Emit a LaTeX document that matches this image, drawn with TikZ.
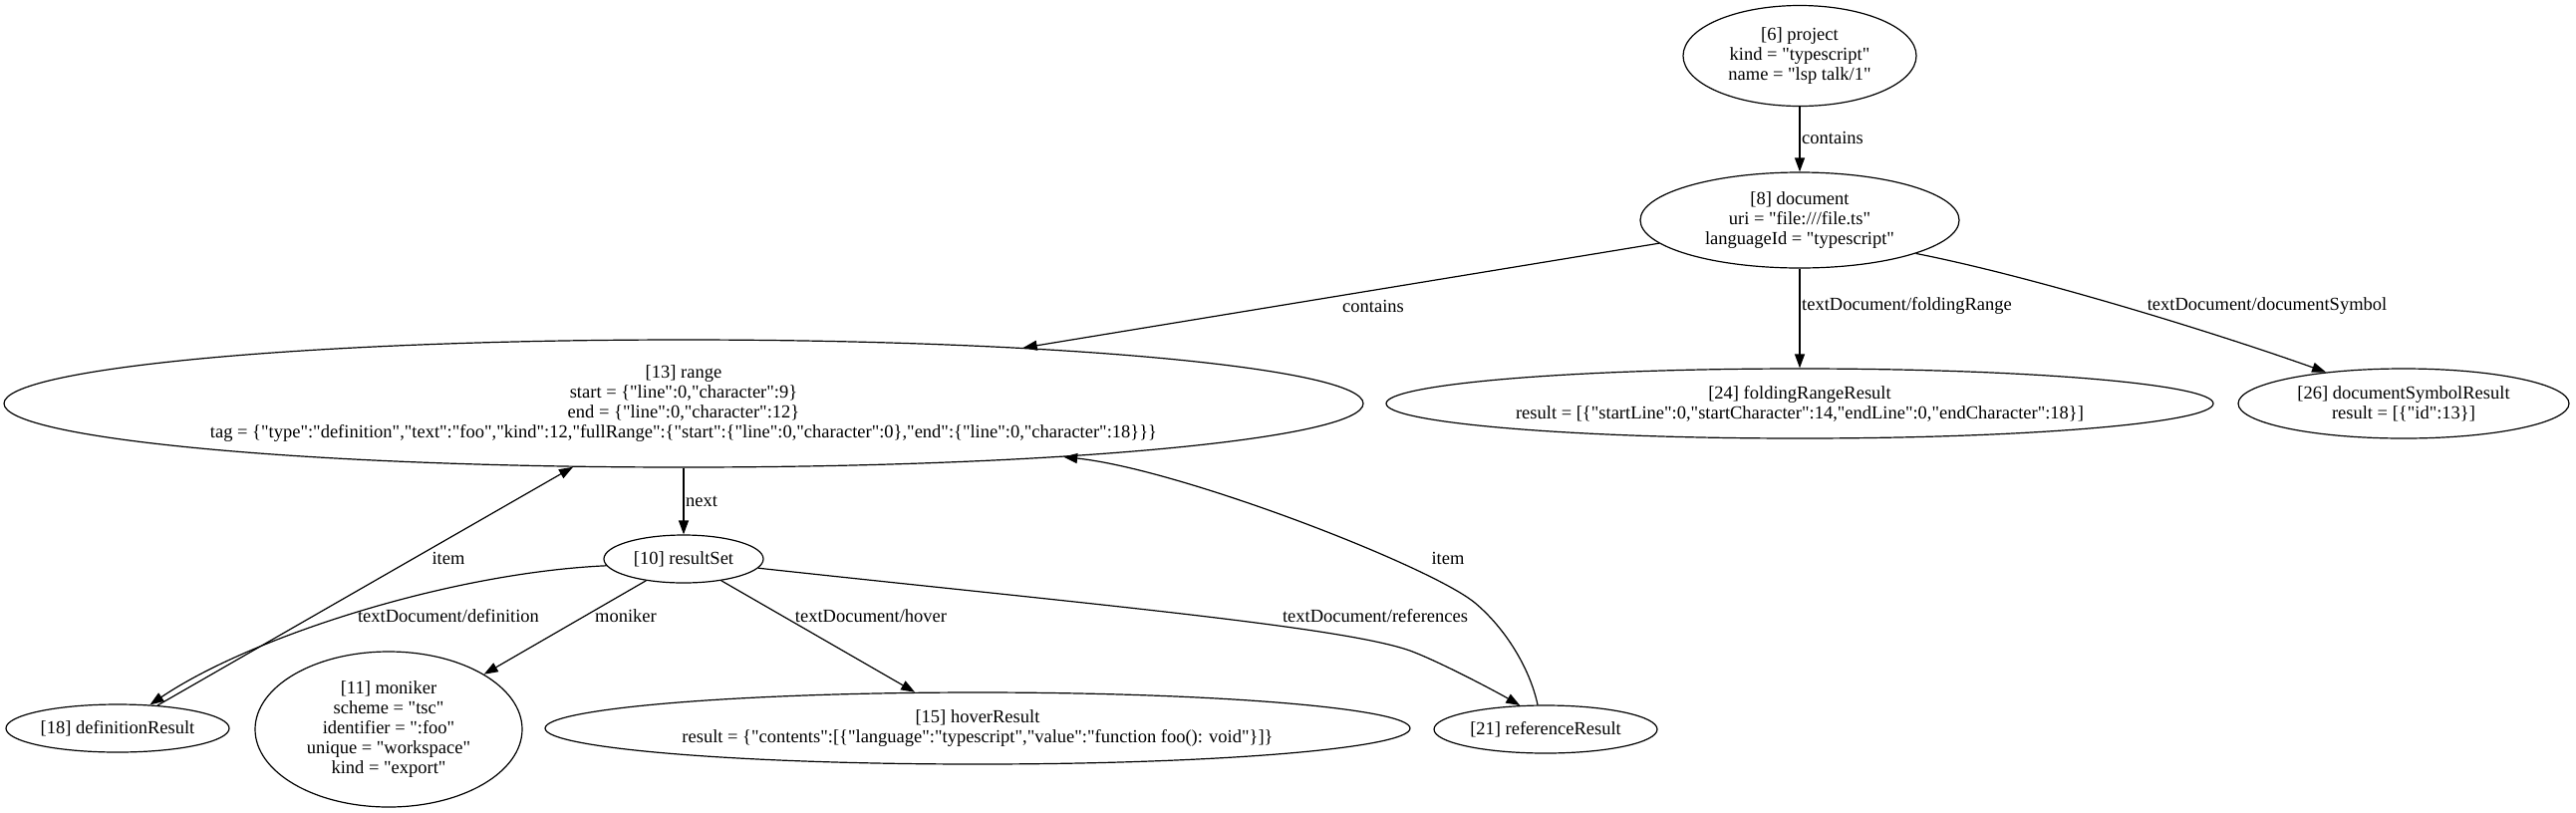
\documentclass[tikz,border=0pt]{standalone}
\usepackage{fontspec}
\setmainfont{Liberation Serif}[Ligatures=TeXOff]
\usetikzlibrary{shapes.geometric,arrows.meta}
\begin{document}
\begin{tikzpicture}[x=1pt,y=-1pt,
  nd/.style={ellipse,draw,line width=1.2pt,inner sep=0pt,align=center,font=\fontsize{18.5}{20}\selectfont},
  lbl/.style={inner sep=0pt,font=\fontsize{18.5}{20}\selectfont},
  conn/.style={line width=1.2pt,-{Triangle[length=14pt,width=10pt]}}]
\fill[white] (0,0) rectangle (2585,815);
\useasboundingbox (0,0) rectangle (2585,815);
% nodes
\node[nd,minimum width=234pt,minimum height=101pt] (proj) at (1806,56) {[6] project\\kind = "typescript"\\name = "lsp talk/1"};
\node[nd,minimum width=320pt,minimum height=96pt] (doc) at (1806,221) {[8] document\\uri = "file:///file.ts"\\languageId = "typescript"};
\node[nd,minimum width=1364pt,minimum height=128pt] (range) at (686,405) {[13] range\\start = \{"line":0,"character":9\}\\end = \{"line":0,"character":12\}\\tag = \{"type":"definition","text":"foo","kind":12,"fullRange":\{"start":\{"line":0,"character":0\},"end":\{"line":0,"character":18\}\}\}};
\node[nd,minimum width=830pt,minimum height=70pt] (fold) at (1806,405) {[24] foldingRangeResult\\result = [\{"startLine":0,"startCharacter":14,"endLine":0,"endCharacter":18\}]};
\node[nd,minimum width=332pt,minimum height=70pt] (dsym) at (2412,405) {[26] documentSymbolResult\\result = [\{"id":13\}]};
\node[nd,minimum width=160pt,minimum height=48pt] (rs) at (686,561) {[10] resultSet};
\node[nd,minimum width=224pt,minimum height=48pt] (def) at (118,731) {[18] definitionResult};
\node[nd,minimum width=268pt,minimum height=156pt] (mon) at (390,732) {[11] moniker\\scheme = "tsc"\\identifier = ":foo"\\unique = "workspace"\\kind = "export"};
\node[nd,minimum width=868pt,minimum height=72pt] (hover) at (981,731) {[15] hoverResult\\result = \{"contents":[\{"language":"typescript","value":"function foo(): void"\}]\}};
\node[nd,minimum width=224pt,minimum height=48pt] (rr) at (1551,732) {[21] referenceResult};
% edges
\draw[conn] (proj) -- (doc);
\draw[conn] (doc) -- (range);
\draw[conn] (doc) -- (fold);
\draw[conn] (doc.-16) .. controls (2042,278) and (2223,334) .. (dsym.158);
\draw[conn] (range) -- (rs);
\draw[conn] (rs.185) .. controls (450,575) and (250,640) .. (def.36);
\draw[conn] (def) -- (range);
\draw[conn] (rs) -- (mon);
\draw[conn] (rs) -- (hover);
\draw[conn] (rs.-7) .. controls (1100,607) and (1360,630) .. (1420,655) .. controls (1450,667) and (1501,694) .. (rr.137);
\draw[conn] (rr.108) .. controls (1535,670) and (1510,630) .. (1480,605) .. controls (1435,568) and (1185,471) .. (range.-8.5);
% labels
\node[lbl,anchor=west] (l1) at (1808,138) {contains};
\node[lbl] (l2) at (1378,307) {contains};
\node[lbl,anchor=west] (l3) at (1808,307) {textDocument/foldingRange};
\node[lbl] (l4) at (2275,307) {textDocument/documentSymbol};
\node[lbl,anchor=west] (l5) at (688,503) {next};
\node[lbl] (l6) at (450,560) {item};
\node[lbl] (l7) at (450,618) {textDocument/definition};
\node[lbl] (l8) at (628,618) {moniker};
\node[lbl] (l9) at (874,618) {textDocument/hover};
\node[lbl] (l10) at (1380,618) {textDocument/references};
\node[lbl] (l11) at (1453,560) {item};
\end{tikzpicture}
\end{document}
